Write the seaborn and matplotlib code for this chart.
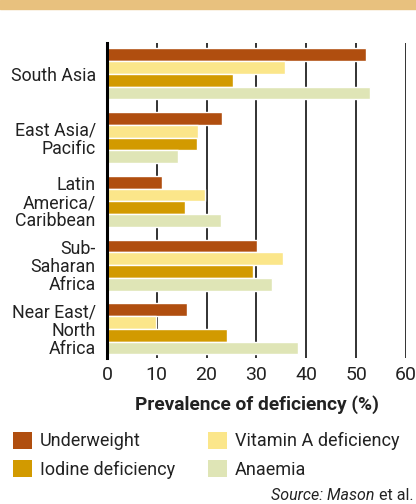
import numpy as np
import pandas as pd
import matplotlib.pyplot as plt
import seaborn as sns
from matplotlib.patches import Patch, Rectangle

regions = ['South Asia', 'East Asia/\nPacific', 'Latin\nAmerica/\nCaribbean',
           'Sub-\nSaharan\nAfrica', 'Near East/\nNorth\nAfrica']
underweight = [52.0, 23.1, 11.0, 30.1, 16.0]
vitamin_a = [35.7, 18.2, 19.7, 35.3, 9.8]
iodine = [25.3, 18.0, 15.6, 29.3, 24.0]
anaemia = [52.8, 14.2, 22.9, 33.1, 38.3]
series = ['Underweight', 'Vitamin A deficiency', 'Iodine deficiency', 'Anaemia']
colors = ['#B04E0F', '#FBE68A', '#D29A00', '#DFE5B6']
xticks = [0, 10, 20, 30, 40, 50, 60]

df = pd.DataFrame({
    'region': regions * 4,
    'kind': np.repeat(series, len(regions)),
    'value': underweight + vitamin_a + iodine + anaemia,
})

sns.set_style('white')
plt.rcParams['font.family'] = ['Roboto', 'DejaVu Sans']

fig = plt.figure(figsize=(4.16, 5.04), dpi=100)
fig.patches.append(Rectangle((0, 1 - 9 / 504), 1, 9 / 504, transform=fig.transFigure,
                             color='#E8C17E', zorder=0))

ax = fig.add_axes([0.257, 0.2897, 0.719, 0.625])
sns.barplot(data=df, y='region', x='value', hue='kind', hue_order=series,
            palette=colors, orient='h', width=0.8, edgecolor='white', linewidth=1,
            saturation=1, legend=False, ax=ax)

ax.set_xlim(0, 60)
ax.set_ylim(4.455, -0.486)
ax.set_xticks(xticks)
ax.set_axisbelow(True)
ax.xaxis.grid(True, color='#222222', lw=1.3)
ax.yaxis.grid(False)
for s in ['top', 'right', 'bottom']:
    ax.spines[s].set_visible(False)
ax.spines['left'].set_color('black')
ax.spines['left'].set_linewidth(2.2)
ax.tick_params(axis='x', length=0, pad=6, labelsize=14, colors='#222222')
ax.tick_params(axis='y', length=0, pad=8, labelsize=12.8, colors='#222222')
for t in ax.get_yticklabels():
    t.set_multialignment('right')
    t.set_linespacing(1.0)
ax.set_ylabel('')
ax.set_xlabel('Prevalence of deficiency (%)', fontsize=13.8, fontweight='bold',
              color='#222222', labelpad=8)

order = [0, 2, 1, 3]
handles = [Patch(facecolor=colors[i], edgecolor='none') for i in order]
labels = [series[i] for i in order]
fig.legend(handles, labels, ncol=2, loc='upper left', bbox_to_anchor=(0.031, 0.143),
           frameon=False, fontsize=13, handlelength=1.05, handleheight=1.05,
           handletextpad=0.45, columnspacing=1.8, labelspacing=0.55, borderpad=0,
           borderaxespad=0, labelcolor='#222222')

fig.canvas.draw()
r = fig.canvas.get_renderer()
t2 = fig.text(0.993, 0.008, 'et al.', ha='right', va='baseline', fontsize=11.5,
              color='#222222')
bb = t2.get_window_extent(renderer=r)
fig.text(bb.x0 / fig.bbox.width, 0.008, 'Source: Mason ', ha='right', va='baseline',
         fontsize=11.5, style='italic', color='#222222')

fig.savefig('out.png', dpi=100)
